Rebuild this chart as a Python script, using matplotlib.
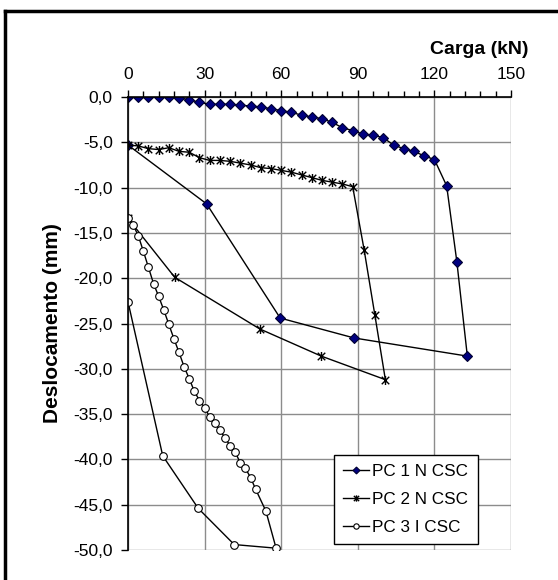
import matplotlib
matplotlib.use("Agg")
import matplotlib.pyplot as plt
from matplotlib.path import Path
from matplotlib.lines import Line2D
from matplotlib.ticker import MultipleLocator, FuncFormatter

plt.rcParams['font.family'] = ['Liberation Sans', 'DejaVu Sans']

# PC 1 N CSC
carga1 = [0, 4, 8, 12, 16, 20, 24, 28, 32, 36, 40, 44, 48, 52, 56, 60, 64, 68, 72,
          76, 80, 84, 88, 92, 96, 100, 104, 108, 112, 116, 120,
          124.8, 128.8, 132.9, 88.6, 59.6, 30.8, 0]
desl1 = [0, 0, 0, 0, 0, -0.1, -0.3, -0.6, -0.8, -0.8, -0.8, -0.9, -1.0, -1.1, -1.3, -1.5, -1.7, -2.0, -2.2,
         -2.4, -2.8, -3.4, -3.7, -4.1, -4.2, -4.5, -5.3, -5.7, -6.0, -6.5, -6.9,
         -9.8, -18.2, -28.6, -26.6, -24.4, -11.8, -5.3]

# PC 2 N CSC
carga2 = [0, 4, 8, 12, 16, 20, 24, 28, 32, 36, 40, 44, 48, 52, 56, 60, 64, 68, 72,
          76, 80, 84, 88, 92.5, 96.7, 100.8, 75.7, 51.6, 18.3, 0]
desl2 = [-5.3, -5.4, -5.7, -5.8, -5.6, -6.0, -6.1, -6.7, -7.0, -7.0, -7.1, -7.3, -7.5, -7.8, -7.9, -8.1, -8.3, -8.6, -8.9,
         -9.2, -9.4, -9.6, -9.9, -16.9, -24.1, -31.2, -28.6, -25.6, -19.9, -13.4]

# PC 3 I CSC
carga3 = [0, 2, 4, 6, 8, 10, 12, 14, 16, 18, 20, 22, 24, 26, 28, 30, 32, 34, 36, 38,
          40, 42, 44, 46, 48, 50, 54, 58, 41.6, 27.5, 13.6, 0]
desl3 = [-13.4, -14.1, -15.3, -17.0, -18.8, -20.6, -22.0, -23.5, -25.1, -26.7, -28.2, -29.8, -31.1,
         -32.5, -33.5, -34.3, -35.3, -36.0, -36.8, -37.6, -38.5, -39.2, -40.4, -41.0, -42.0, -43.3,
         -45.7, -49.8, -49.4, -45.4, -39.6, -22.6]

labels = ['PC 1 N CSC', 'PC 2 N CSC', 'PC 3 I CSC']

# excel-like star marker: X with a vertical bar
star = Path([(-1, -1), (1, 1), (-1, 1), (1, -1), (0, -1.2), (0, 1.2)],
            [Path.MOVETO, Path.LINETO, Path.MOVETO, Path.LINETO, Path.MOVETO, Path.LINETO])

fig = plt.figure(figsize=(5.58, 5.80), dpi=100)
ax = fig.add_axes([128 / 558, 1 - 550 / 580, 383 / 558, 453 / 580])

ax.plot(carga1, desl1, color='black', lw=1, marker='D', markersize=5,
        markerfacecolor='#000080', markeredgecolor='#000030', markeredgewidth=0.8, label=labels[0])
ax.plot(carga2, desl2, color='black', lw=1, marker=star, markersize=6.5,
        markeredgecolor='black', markeredgewidth=1, label=labels[1])
ax.plot(carga3, desl3, color='black', lw=1, marker='o', markersize=5.5,
        markerfacecolor='white', markeredgecolor='black', markeredgewidth=0.8, label=labels[2])

ax.set_xlim(0, 150)
ax.set_ylim(-50, 0)
ax.xaxis.set_major_locator(MultipleLocator(30))
ax.xaxis.set_minor_locator(MultipleLocator(6))
ax.yaxis.set_major_locator(MultipleLocator(5))
ax.xaxis.tick_top()
ax.tick_params(axis='x', which='major', direction='out', length=5, width=1, pad=6, labelsize=12.5)
ax.tick_params(axis='x', which='minor', direction='out', length=4, width=1)
ax.tick_params(axis='y', direction='out', length=5, width=1, pad=6, labelsize=12.5)
ax.yaxis.set_major_formatter(FuncFormatter(lambda v, p: ('%.1f' % v).replace('.', ',').replace('-0,0', '0,0')))

ax.grid(True, which='major', color='#8c8c8c', lw=1)
ax.set_axisbelow(True)
for s in ['right', 'bottom']:
    ax.spines[s].set_visible(False)
for s in ['top', 'left']:
    ax.spines[s].set_linewidth(1.2)

leg = ax.legend(loc='lower left', bbox_to_anchor=(0.538, 0.013), borderaxespad=0, fontsize=12.3,
                frameon=True, fancybox=False, edgecolor='black', framealpha=1,
                handlelength=1.5, handletextpad=0.2, labelspacing=0.75, borderpad=0.55, markerscale=0.7)
leg.get_frame().set_linewidth(1)

fig.text(528 / 558, 1 - 50 / 580, 'Carga (kN)', ha='right', va='center', fontsize=14, fontweight='bold')
fig.text(53 / 558, 1 - 323 / 580, 'Deslocamento (mm)', ha='center', va='center', rotation=90,
         fontsize=15, fontweight='bold')

# outer frame (left and top edges visible)
fig.add_artist(Line2D([4.5 / 558, 4.5 / 558], [0, 1 - 11 / 580], transform=fig.transFigure, color='black', lw=2.5))
fig.add_artist(Line2D([4.5 / 558, 1], [1 - 11 / 580, 1 - 11 / 580], transform=fig.transFigure, color='black', lw=2.5))

fig.savefig('out.png', dpi=100)
